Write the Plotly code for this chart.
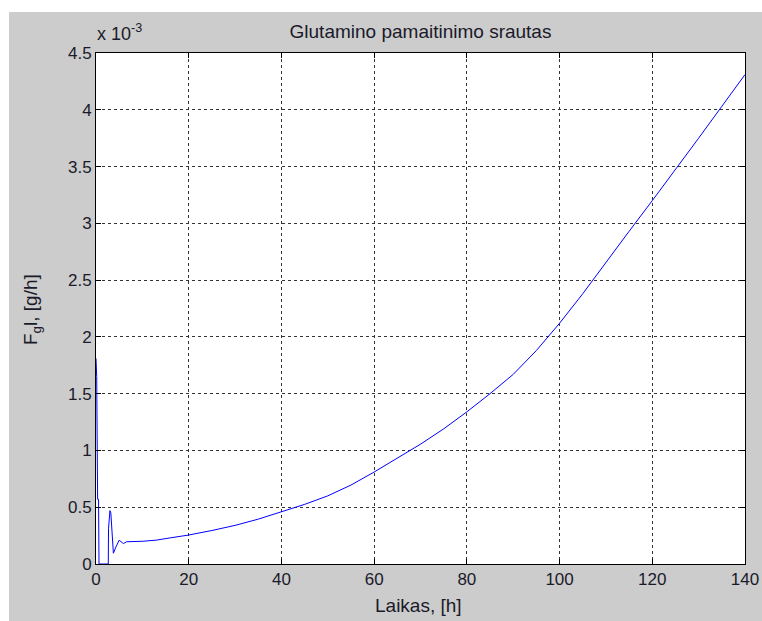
import plotly.graph_objects as go

# Time, hours
laikas = [0, 0.15, 0.35, 0.55, 0.65, 2.65, 2.7, 3.0, 3.2, 3.75, 4.3, 5.0, 5.9, 6.6,
          10, 13, 16, 20, 25, 30, 35, 40, 45, 50, 55, 60, 65, 70, 75, 80,
          85, 90, 95, 100, 105, 110, 115, 120, 125, 130, 135, 140]
# Glutamine feed flow, in units of 1e-3 g/h
fgl_e3 = [1.81, 1.65, 0.57, 0.57, 0.0, 0.0, 0.31, 0.47, 0.45, 0.095, 0.15, 0.21, 0.18, 0.196,
          0.20, 0.21, 0.23, 0.255, 0.295, 0.34, 0.395, 0.46, 0.525, 0.60, 0.695, 0.81, 0.93, 1.055, 1.19, 1.34,
          1.50, 1.67, 1.88, 2.12, 2.38, 2.66, 2.93, 3.2, 3.47, 3.75, 4.03, 4.31]

x_ticks = [0, 20, 40, 60, 80, 100, 120, 140]
y_ticks = [0, 0.5, 1, 1.5, 2, 2.5, 3, 3.5, 4, 4.5]
y_ticktext = ["0", "0.5", "1", "1.5", "2", "2.5", "3", "3.5", "4", "4.5"]

W, H = 762, 621
L, R, T, B = 96, 17, 53, 57
pw, ph = W - L - R, H - T - B

def px(xp):
    return (xp - L) / pw

def py(yp):
    return (H - B - yp) / ph

font = "Liberation Sans, Arial, sans-serif"
txt = "#1a1a2a"

fig = go.Figure()
fig.add_trace(go.Scatter(x=laikas, y=fgl_e3, mode="lines",
                         line=dict(color="#0000ff", width=1), showlegend=False))

axis_common = dict(
    showline=True, linecolor="#000000", linewidth=1, mirror="ticks",
    ticks="inside", ticklen=5, tickcolor="#000000", tickwidth=1,
    showgrid=True, gridcolor="#333333", gridwidth=1, griddash="3px,3px",
    zeroline=False, automargin=False,
    tickfont=dict(family=font, size=17, color=txt),
)

fig.update_xaxes(range=[0, 140], tickvals=x_ticks, **axis_common)
fig.update_yaxes(range=[0, 4.5], tickvals=y_ticks, ticktext=y_ticktext, **axis_common)

fig.update_layout(
    width=W, height=H, autosize=False,
    margin=dict(l=L, r=R, t=T, b=B, pad=0, autoexpand=False),
    paper_bgcolor="#cccccc", plot_bgcolor="#ffffff",
    title=dict(text="Glutamino pamaitinimo srautas", x=0.5, xref="paper", xanchor="center",
               y=1 - 31 / H, yanchor="middle", yref="container",
               font=dict(family=font, size=19, color=txt)),
    font=dict(family=font, color=txt),
    shapes=[
        dict(type="rect", xref="paper", yref="paper", x0=px(0), x1=px(W),
             y0=py(12), y1=py(0), fillcolor="#ffffff", line=dict(width=0), layer="above"),
        dict(type="rect", xref="paper", yref="paper", x0=px(0), x1=px(9),
             y0=py(H), y1=py(0), fillcolor="#ffffff", line=dict(width=0), layer="above"),
    ],
    annotations=[
        dict(text="Laikas, [h]", xref="paper", yref="paper", x=px(418), y=py(605),
             xanchor="center", yanchor="middle", showarrow=False,
             font=dict(family=font, size=19, color=txt)),
        dict(text="F<sub>g</sub>l, [g/h]", xref="paper", yref="paper", x=px(32), y=py(310),
             xanchor="center", yanchor="middle", textangle=-90, showarrow=False,
             font=dict(family=font, size=19, color=txt)),
        dict(text="x 10<sup>-3</sup>", xref="paper", yref="paper", x=px(95), y=py(46),
             xanchor="left", yanchor="bottom", showarrow=False,
             font=dict(family=font, size=18, color=txt)),
    ],
)

fig.write_html("out.html", config={"displayModeBar": False},
               post_script="document.body.style.margin='0';document.body.style.overflow='hidden';")
